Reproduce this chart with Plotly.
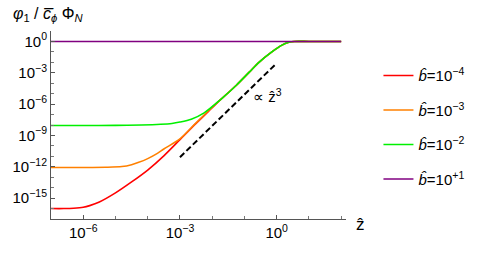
import plotly.graph_objects as go
import numpy as np

# ---- data (log10 z, log10 value) ----
red_logz = [-7.0, -6.6, -6.3, -6.0, -5.8, -5.5, -5.0, -4.5, -4.0, -3.5, -3.0, -2.5, -2.0, -1.75,
            -1.25, -0.85, -0.55, -0.15, 0.15, 0.4, 0.55, 1.0, 2.0]
red_logy = [-16.0, -16.0, -15.97, -15.88, -15.72, -15.37, -14.5, -13.45, -12.31, -10.95, -9.4, -7.85, -6.35, -5.6,
            -4.19, -2.94, -2.0, -1.0, -0.375, -0.06, 0.0, 0.0, 0.0]

orange_logz = [-7.0, -6.0, -5.3, -4.8, -4.5, -4.3, -4.0, -3.7, -3.5, -3.0, -2.5, -2.0, -1.75,
               -1.25, -0.85, -0.55, -0.15, 0.15, 0.4, 0.55, 1.0, 2.0]
orange_logy = [-12.07, -12.07, -12.05, -11.98, -11.8, -11.6, -11.22, -10.72, -10.3, -9.33, -7.8, -6.3, -5.6,
               -4.19, -2.94, -2.0, -1.0, -0.375, -0.06, 0.0, 0.0, 0.0]

green_logz = [-7.0, -6.0, -5.0, -4.2, -3.6, -3.25, -3.0, -2.65, -2.25, -1.75, -1.25, -0.85, -0.55,
              -0.15, 0.15, 0.4, 0.55, 1.0, 2.0]
green_logy = [-8.05, -8.05, -8.04, -8.0, -7.93, -7.85, -7.72, -7.45, -6.84, -5.59, -4.19, -2.94, -2.0,
              -1.0, -0.375, -0.06, 0.0, 0.0, 0.0]

purple_logz = [-7.0, 2.0]
purple_logy = [0.0, 0.0]

guide_logz = [-3.0, 0.0]
guide_logy = [-11.08, -2.08]

series = [
    ("<i>b̂</i>=10<sup>−4</sup>", red_logz, red_logy, "#FF0000"),
    ("<i>b̂</i>=10<sup>−3</sup>", orange_logz, orange_logy, "#FF8000"),
    ("<i>b̂</i>=10<sup>−2</sup>", green_logz, green_logy, "#00F000"),
    ("<i>b̂</i>=10<sup>+1</sup>", purple_logz, purple_logy, "#800080"),
]

x_major = [-6, -3, 0]
y_major = [-15, -12, -9, -6, -3, 0]
x_minor = list(range(-7, 3))
y_minor = list(range(-17, 2))

def sup(e):
    return "10<sup>" + (str(e) if e >= 0 else "−" + str(-e)) + "</sup>"

fig = go.Figure()
for i, (name, lz, ly, col) in enumerate(series):
    fig.add_trace(go.Scatter(
        x=10 ** np.array(lz), y=10 ** np.array(ly), mode="lines", name=name,
        line=dict(color=col, width=1.6, shape="spline", smoothing=0.8),
        legendgroup=str(i)))

fig.add_trace(go.Scatter(
    x=10 ** np.array(guide_logz), y=10 ** np.array(guide_logy), mode="lines",
    line=dict(color="black", width=2, dash="6px,3px"), showlegend=False))

font = "Liberation Sans, Arial, sans-serif"
fig.update_layout(
    width=482, height=253,
    margin=dict(l=46, r=132, t=31, b=30),
    paper_bgcolor="white", plot_bgcolor="white",
    font=dict(family=font, size=15, color="black"),
    showlegend=True,
    legend=dict(x=1.11, y=0.85, xanchor="left", yanchor="top",
                traceorder="grouped", tracegroupgap=12,
                itemwidth=30, font=dict(size=15, family=font)),
    xaxis=dict(type="log", range=[-7, 2.15], showgrid=False, zeroline=False,
               showline=True, linecolor="#555", linewidth=1,
               ticks="inside", ticklen=4, tickcolor="#555",
               tickvals=[10.0 ** e for e in x_major], ticktext=[sup(e) for e in x_major],
               minor=dict(tickvals=[10.0 ** e for e in x_minor], ticks="inside", ticklen=3,
                          tickcolor="#777", showgrid=False),
               tickfont=dict(size=15)),
    yaxis=dict(type="log", range=[-17, 1], showgrid=False, zeroline=False,
               showline=True, linecolor="#555", linewidth=1,
               ticks="inside", ticklen=4, tickcolor="#555",
               tickvals=[10.0 ** e for e in y_major], ticktext=[sup(e) for e in y_major],
               minor=dict(tickvals=[10.0 ** e for e in y_minor], ticks="inside", ticklen=3,
                          tickcolor="#777", showgrid=False),
               tickfont=dict(size=15)),
)

fig.add_annotation(x=-0.3, y=-5.2, xref="x", yref="y", text="∝ ẑ<sup>3</sup>",
                   showarrow=False, font=dict(size=15))
fig.add_annotation(x=0.0, y=1.0, xref="paper", yref="paper", xanchor="left", yanchor="bottom",
                   xshift=-40, yshift=5,
                   text="<i>φ</i><sub>1</sub> / <i>c̅</i><sub><i>ϕ</i></sub> Φ<sub><i>N</i></sub>",
                   showarrow=False, font=dict(size=16))
fig.add_annotation(x=1.0, y=0.0, xref="paper", yref="paper", xanchor="left", yanchor="middle",
                   xshift=8, yshift=-5, text="ẑ", showarrow=False, font=dict(size=17))

fig.write_html("out.html", config={"displayModeBar": False},
               post_script="document.body.style.margin='0px';")
